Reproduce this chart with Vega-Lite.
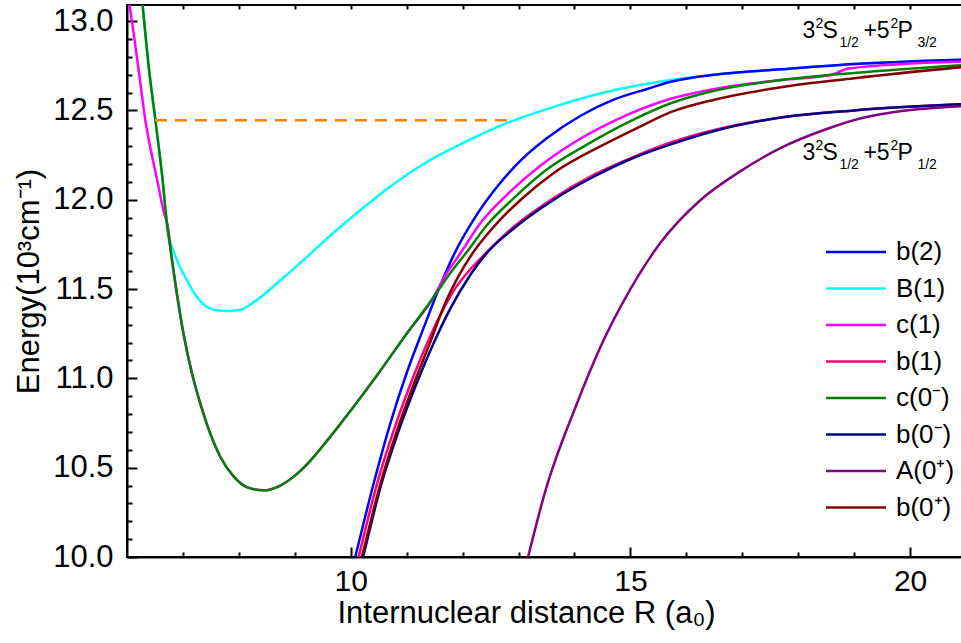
{
  "$schema": "https://vega.github.io/schema/vega-lite/v6.json",
  "autosize": {"type": "none"},
  "padding": {"left": 127, "top": 5, "right": 0, "bottom": 86},
  "width": 839,
  "height": 552,
  "config": {
    "font": "Liberation Sans",
    "view": {"stroke": "black", "strokeWidth": 2},
    "axis": {"grid": false, "domainColor": "black", "domainWidth": 2, "tickColor": "black", "tickWidth": 2, "labelColor": "black", "titleColor": "black", "titleFontWeight": "normal", "labelFont": "Liberation Sans", "titleFont": "Liberation Sans"}
  },
  "datasets": {
    "curves": [
      {"s": "B(1)", "x": 6.27, "y": 13.12}, {"s": "B(1)", "x": 6.39, "y": 12.74}, {"s": "B(1)", "x": 6.51, "y": 12.44}, {"s": "B(1)", "x": 6.63, "y": 12.13}, {"s": "B(1)", "x": 6.72, "y": 11.85},
      {"s": "B(1)", "x": 6.86, "y": 11.69}, {"s": "B(1)", "x": 7.07, "y": 11.55}, {"s": "B(1)", "x": 7.25, "y": 11.455}, {"s": "B(1)", "x": 7.55, "y": 11.384}, {"s": "B(1)", "x": 7.79, "y": 11.377},
      {"s": "B(1)", "x": 8.03, "y": 11.384}, {"s": "B(1)", "x": 8.27, "y": 11.427}, {"s": "B(1)", "x": 8.5, "y": 11.483}, {"s": "B(1)", "x": 8.86, "y": 11.58}, {"s": "B(1)", "x": 9.22, "y": 11.68},
      {"s": "B(1)", "x": 9.46, "y": 11.75}, {"s": "B(1)", "x": 10.05, "y": 11.91}, {"s": "B(1)", "x": 10.65, "y": 12.06}, {"s": "B(1)", "x": 11.25, "y": 12.19}, {"s": "B(1)", "x": 11.96, "y": 12.31},
      {"s": "B(1)", "x": 12.8, "y": 12.43}, {"s": "B(1)", "x": 13.63, "y": 12.52}, {"s": "B(1)", "x": 14.53, "y": 12.6}, {"s": "B(1)", "x": 15.72, "y": 12.67}, {"s": "B(1)", "x": 16.5, "y": 12.7},
      {"s": "B(1)", "x": 17.69, "y": 12.73}, {"s": "B(1)", "x": 19.0, "y": 12.76}, {"s": "B(1)", "x": 21.0, "y": 12.785},

      {"s": "b(2)", "x": 10.04, "y": 9.95}, {"s": "b(2)", "x": 10.08, "y": 10.0}, {"s": "b(2)", "x": 10.4, "y": 10.4}, {"s": "b(2)", "x": 10.7, "y": 10.74}, {"s": "b(2)", "x": 11.0, "y": 11.03},
      {"s": "b(2)", "x": 11.3, "y": 11.28}, {"s": "b(2)", "x": 11.6, "y": 11.52}, {"s": "b(2)", "x": 11.84, "y": 11.69}, {"s": "b(2)", "x": 12.2, "y": 11.89},
      {"s": "b(2)", "x": 12.56, "y": 12.05}, {"s": "b(2)", "x": 13.04, "y": 12.22}, {"s": "b(2)", "x": 13.51, "y": 12.345}, {"s": "b(2)", "x": 14.11, "y": 12.47}, {"s": "b(2)", "x": 14.7, "y": 12.56},
      {"s": "b(2)", "x": 15.3, "y": 12.62}, {"s": "b(2)", "x": 15.72, "y": 12.66}, {"s": "b(2)", "x": 16.5, "y": 12.7}, {"s": "b(2)", "x": 17.69, "y": 12.73}, {"s": "b(2)", "x": 19.0, "y": 12.76}, {"s": "b(2)", "x": 21.0, "y": 12.785},

      {"s": "c(1)", "x": 6.03, "y": 13.12}, {"s": "c(1)", "x": 6.12, "y": 12.93}, {"s": "c(1)", "x": 6.24, "y": 12.65}, {"s": "c(1)", "x": 6.33, "y": 12.44}, {"s": "c(1)", "x": 6.45, "y": 12.24},
      {"s": "c(1)", "x": 6.54, "y": 12.11}, {"s": "c(1)", "x": 6.65, "y": 11.94}, {"s": "c(1)", "x": 6.74, "y": 11.83}, {"s": "c(1)", "x": 6.78, "y": 11.72}, {"s": "c(1)", "x": 7.01, "y": 11.25},
      {"s": "c(1)", "x": 7.16, "y": 11.03}, {"s": "c(1)", "x": 7.31, "y": 10.86}, {"s": "c(1)", "x": 7.49, "y": 10.69}, {"s": "c(1)", "x": 7.67, "y": 10.56}, {"s": "c(1)", "x": 7.91, "y": 10.45},
      {"s": "c(1)", "x": 8.15, "y": 10.39}, {"s": "c(1)", "x": 8.44, "y": 10.373}, {"s": "c(1)", "x": 8.74, "y": 10.4}, {"s": "c(1)", "x": 8.98, "y": 10.45}, {"s": "c(1)", "x": 9.28, "y": 10.54},
      {"s": "c(1)", "x": 9.6, "y": 10.66}, {"s": "c(1)", "x": 10.0, "y": 10.82}, {"s": "c(1)", "x": 10.5, "y": 11.03}, {"s": "c(1)", "x": 11.0, "y": 11.25}, {"s": "c(1)", "x": 11.45, "y": 11.44},
      {"s": "c(1)", "x": 11.7, "y": 11.58}, {"s": "c(1)", "x": 11.96, "y": 11.7}, {"s": "c(1)", "x": 12.32, "y": 11.87}, {"s": "c(1)", "x": 12.8, "y": 12.03}, {"s": "c(1)", "x": 13.39, "y": 12.19},
      {"s": "c(1)", "x": 13.99, "y": 12.32}, {"s": "c(1)", "x": 14.7, "y": 12.44}, {"s": "c(1)", "x": 15.72, "y": 12.565}, {"s": "c(1)", "x": 16.5, "y": 12.62}, {"s": "c(1)", "x": 17.69, "y": 12.67},
      {"s": "c(1)", "x": 18.6, "y": 12.7}, {"s": "c(1)", "x": 18.9, "y": 12.735}, {"s": "c(1)", "x": 21.0, "y": 12.775},

      {"s": "c(0⁻)", "x": 6.27, "y": 13.12}, {"s": "c(0⁻)", "x": 6.39, "y": 12.74}, {"s": "c(0⁻)", "x": 6.51, "y": 12.44}, {"s": "c(0⁻)", "x": 6.63, "y": 12.13}, {"s": "c(0⁻)", "x": 6.72, "y": 11.85},
      {"s": "c(0⁻)", "x": 6.78, "y": 11.72}, {"s": "c(0⁻)", "x": 7.01, "y": 11.25},
      {"s": "c(0⁻)", "x": 7.16, "y": 11.03}, {"s": "c(0⁻)", "x": 7.31, "y": 10.86}, {"s": "c(0⁻)", "x": 7.49, "y": 10.69}, {"s": "c(0⁻)", "x": 7.67, "y": 10.56}, {"s": "c(0⁻)", "x": 7.91, "y": 10.45},
      {"s": "c(0⁻)", "x": 8.15, "y": 10.39}, {"s": "c(0⁻)", "x": 8.44, "y": 10.373}, {"s": "c(0⁻)", "x": 8.74, "y": 10.4}, {"s": "c(0⁻)", "x": 8.98, "y": 10.45}, {"s": "c(0⁻)", "x": 9.28, "y": 10.54},
      {"s": "c(0⁻)", "x": 9.6, "y": 10.66}, {"s": "c(0⁻)", "x": 10.0, "y": 10.82}, {"s": "c(0⁻)", "x": 10.5, "y": 11.03}, {"s": "c(0⁻)", "x": 11.0, "y": 11.25}, {"s": "c(0⁻)", "x": 11.45, "y": 11.44},
      {"s": "c(0⁻)", "x": 11.78, "y": 11.59}, {"s": "c(0⁻)", "x": 12.08, "y": 11.71}, {"s": "c(0⁻)", "x": 12.44, "y": 11.86}, {"s": "c(0⁻)", "x": 12.92, "y": 12.01}, {"s": "c(0⁻)", "x": 13.51, "y": 12.17},
      {"s": "c(0⁻)", "x": 14.23, "y": 12.31}, {"s": "c(0⁻)", "x": 15.0, "y": 12.44}, {"s": "c(0⁻)", "x": 15.72, "y": 12.54}, {"s": "c(0⁻)", "x": 16.5, "y": 12.61}, {"s": "c(0⁻)", "x": 17.69, "y": 12.67},
      {"s": "c(0⁻)", "x": 19.0, "y": 12.71}, {"s": "c(0⁻)", "x": 21.0, "y": 12.755},

      {"s": "b(1)", "x": 10.1, "y": 9.95}, {"s": "b(1)", "x": 10.14, "y": 10.0}, {"s": "b(1)", "x": 10.47, "y": 10.41}, {"s": "b(1)", "x": 10.77, "y": 10.71}, {"s": "b(1)", "x": 11.07, "y": 10.97},
      {"s": "b(1)", "x": 11.37, "y": 11.2}, {"s": "b(1)", "x": 11.66, "y": 11.39}, {"s": "b(1)", "x": 11.84, "y": 11.49}, {"s": "b(1)", "x": 12.08, "y": 11.59}, {"s": "b(1)", "x": 12.32, "y": 11.67},
      {"s": "b(1)", "x": 12.92, "y": 11.85}, {"s": "b(1)", "x": 13.63, "y": 12.01}, {"s": "b(1)", "x": 14.35, "y": 12.14}, {"s": "b(1)", "x": 15.06, "y": 12.24}, {"s": "b(1)", "x": 15.72, "y": 12.32},
      {"s": "b(1)", "x": 16.5, "y": 12.39}, {"s": "b(1)", "x": 17.69, "y": 12.46}, {"s": "b(1)", "x": 19.0, "y": 12.5}, {"s": "b(1)", "x": 21.0, "y": 12.535},

      {"s": "b(0⁻)", "x": 10.18, "y": 9.95}, {"s": "b(0⁻)", "x": 10.22, "y": 10.0}, {"s": "b(0⁻)", "x": 10.55, "y": 10.41}, {"s": "b(0⁻)", "x": 10.85, "y": 10.7}, {"s": "b(0⁻)", "x": 11.15, "y": 10.95},
      {"s": "b(0⁻)", "x": 11.43, "y": 11.16}, {"s": "b(0⁻)", "x": 11.78, "y": 11.39}, {"s": "b(0⁻)", "x": 12.14, "y": 11.58}, {"s": "b(0⁻)", "x": 12.4, "y": 11.69}, {"s": "b(0⁻)", "x": 12.92, "y": 11.84},
      {"s": "b(0⁻)", "x": 13.63, "y": 12.0}, {"s": "b(0⁻)", "x": 14.35, "y": 12.13}, {"s": "b(0⁻)", "x": 15.06, "y": 12.235}, {"s": "b(0⁻)", "x": 15.72, "y": 12.31}, {"s": "b(0⁻)", "x": 16.5, "y": 12.385},
      {"s": "b(0⁻)", "x": 17.69, "y": 12.46}, {"s": "b(0⁻)", "x": 19.0, "y": 12.5}, {"s": "b(0⁻)", "x": 21.0, "y": 12.535},

      {"s": "A(0⁺)", "x": 13.13, "y": 9.95}, {"s": "A(0⁺)", "x": 13.17, "y": 10.0}, {"s": "A(0⁺)", "x": 13.48, "y": 10.37}, {"s": "A(0⁺)", "x": 14.02, "y": 10.84}, {"s": "A(0⁺)", "x": 14.47, "y": 11.18},
      {"s": "A(0⁺)", "x": 15.0, "y": 11.5}, {"s": "A(0⁺)", "x": 15.54, "y": 11.76}, {"s": "A(0⁺)", "x": 16.26, "y": 12.0}, {"s": "A(0⁺)", "x": 16.97, "y": 12.16}, {"s": "A(0⁺)", "x": 17.69, "y": 12.29},
      {"s": "A(0⁺)", "x": 18.46, "y": 12.39}, {"s": "A(0⁺)", "x": 19.18, "y": 12.46}, {"s": "A(0⁺)", "x": 21.0, "y": 12.525},

      {"s": "b(0⁺)", "x": 10.16, "y": 9.95}, {"s": "b(0⁺)", "x": 10.2, "y": 10.0}, {"s": "b(0⁺)", "x": 10.53, "y": 10.41}, {"s": "b(0⁺)", "x": 10.83, "y": 10.71}, {"s": "b(0⁺)", "x": 11.13, "y": 10.97},
      {"s": "b(0⁺)", "x": 11.43, "y": 11.21}, {"s": "b(0⁺)", "x": 11.66, "y": 11.4}, {"s": "b(0⁺)", "x": 11.96, "y": 11.59}, {"s": "b(0⁺)", "x": 12.2, "y": 11.71}, {"s": "b(0⁺)", "x": 12.62, "y": 11.87},
      {"s": "b(0⁺)", "x": 13.04, "y": 12.0}, {"s": "b(0⁺)", "x": 13.63, "y": 12.15}, {"s": "b(0⁺)", "x": 14.47, "y": 12.3}, {"s": "b(0⁺)", "x": 15.18, "y": 12.41}, {"s": "b(0⁺)", "x": 15.72, "y": 12.49},
      {"s": "b(0⁺)", "x": 16.5, "y": 12.56}, {"s": "b(0⁺)", "x": 17.69, "y": 12.63}, {"s": "b(0⁺)", "x": 19.0, "y": 12.68}, {"s": "b(0⁺)", "x": 21.0, "y": 12.745}
    ],
    "dash": [{"x": 6.5, "x2": 12.9, "y": 12.445}],
    "ann": [{"x": 18.075, "y": 12.907, "sub2": "3/2"}, {"x": 18.075, "y": 12.224, "sub2": "1/2"}]
  },
  "layer": [
    {
      "encoding": {
        "x": {"field": "x", "type": "quantitative", "scale": {"domain": [6, 21], "nice": false, "zero": false},
          "axis": {"orient": "bottom", "values": [10, 15, 20], "tickSize": -10, "labelFontSize": 30, "labelPadding": 19, "labelOverlap": false, "labelFlush": false,
            "title": "Internuclear distance R (a₀)", "titleFontSize": 31, "titlePadding": 2, "titleX": 399}},
        "y": {"field": "y", "type": "quantitative", "scale": {"domain": [10, 13.09], "nice": false, "zero": false},
          "axis": {"orient": "left", "values": [10, 10.5, 11, 11.5, 12, 12.5, 13], "format": ".1f", "tickSize": -10, "labelFontSize": 31, "labelPadding": 24, "labelOverlap": false, "labelFlush": false,
            "title": "Energy(10³cm⁻¹)", "titleFontSize": 31, "titlePadding": 7}}
      },
      "layer": [
        {
          "data": {"name": "curves"},
          "mark": {"type": "line", "strokeWidth": 2.5, "clip": true, "interpolate": "monotone"},
          "encoding": {
            "color": {"field": "s", "type": "nominal",
              "scale": {"domain": ["b(2)", "B(1)", "c(1)", "b(1)", "c(0⁻)", "b(0⁻)", "A(0⁺)", "b(0⁺)"],
                "range": ["#0000FF", "#00FFFF", "#FF00FF", "#FF0080", "#008000", "#000080", "#800080", "#800000"]},
              "legend": {"orient": "none", "legendX": 716, "legendY": 234, "title": null, "padding": 0,
                "symbolType": "M-6,0H6", "symbolSize": 100, "symbolStrokeWidth": 2.5, "labelFontSize": 26, "labelOffset": 27, "rowPadding": 10.5, "labelColor": "black", "labelFont": "Liberation Sans"}}
          }
        },
        {
          "data": {"name": "dash"},
          "mark": {"type": "rule", "color": "#FF8000", "strokeWidth": 2.5, "strokeDash": [12, 8]},
          "encoding": {"x2": {"field": "x2"}}
        },
        {"data": {"name": "ann"}, "mark": {"type": "text", "text": "3", "fontSize": 23, "align": "left", "baseline": "alphabetic", "dx": 0}},
        {"data": {"name": "ann"}, "mark": {"type": "text", "text": "2", "fontSize": 14, "align": "left", "baseline": "alphabetic", "dx": 13, "dy": -10}},
        {"data": {"name": "ann"}, "mark": {"type": "text", "text": "S", "fontSize": 23, "align": "left", "baseline": "alphabetic", "dx": 20}},
        {"data": {"name": "ann"}, "mark": {"type": "text", "text": "1/2", "fontSize": 14, "align": "left", "baseline": "alphabetic", "dx": 37, "dy": 9}},
        {"data": {"name": "ann"}, "mark": {"type": "text", "text": "+5", "fontSize": 23, "align": "left", "baseline": "alphabetic", "dx": 61}},
        {"data": {"name": "ann"}, "mark": {"type": "text", "text": "2", "fontSize": 14, "align": "left", "baseline": "alphabetic", "dx": 88, "dy": -10}},
        {"data": {"name": "ann"}, "mark": {"type": "text", "text": "P", "fontSize": 23, "align": "left", "baseline": "alphabetic", "dx": 95}},
        {"data": {"name": "ann"}, "mark": {"type": "text", "fontSize": 14, "align": "left", "baseline": "alphabetic", "dx": 115, "dy": 9}, "encoding": {"text": {"field": "sub2"}}}
      ]
    },
    {
      "data": {"name": "dash"},
      "mark": {"type": "rule", "opacity": 0},
      "encoding": {
        "x": {"field": "x", "type": "quantitative", "scale": {"domain": [6, 21], "nice": false, "zero": false},
          "axis": {"orient": "bottom", "values": [7, 8, 9, 11, 12, 13, 14, 16, 17, 18, 19], "tickSize": -5, "labels": false, "domain": false, "title": null}}
      }
    },
    {
      "data": {"name": "dash"},
      "mark": {"type": "rule", "opacity": 0},
      "encoding": {
        "x": {"field": "x", "type": "quantitative", "scale": {"domain": [6, 21], "nice": false, "zero": false},
          "axis": {"orient": "top", "values": [7, 8, 9, 10, 11, 12, 13, 14, 15, 16, 17, 18, 19, 20], "tickSize": -4, "labels": false, "domain": false, "title": null}}
      }
    },
    {
      "data": {"name": "dash"},
      "mark": {"type": "rule", "opacity": 0},
      "encoding": {
        "y": {"field": "y", "type": "quantitative", "scale": {"domain": [10, 13.09], "nice": false, "zero": false},
          "axis": {"orient": "left", "values": [10.1, 10.2, 10.3, 10.4, 10.6, 10.7, 10.8, 10.9, 11.1, 11.2, 11.3, 11.4, 11.6, 11.7, 11.8, 11.9, 12.1, 12.2, 12.3, 12.4, 12.6, 12.7, 12.8, 12.9], "tickSize": -5, "labels": false, "domain": false, "title": null}}
      }
    }
  ],
  "resolve": {"axis": {"x": "independent", "y": "independent"}}
}
